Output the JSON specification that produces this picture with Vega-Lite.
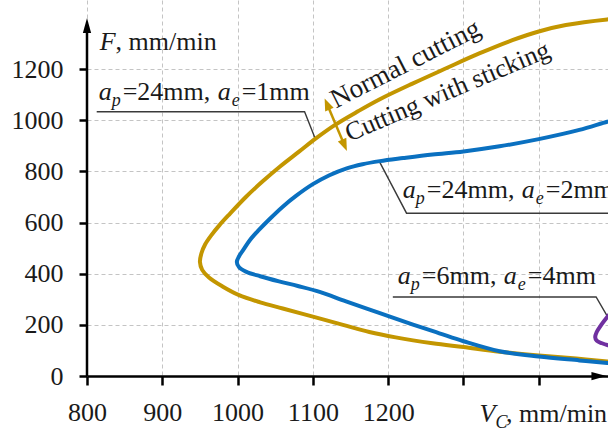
{
  "$schema": "https://vega.github.io/schema/vega-lite/v6.json",
  "width": 521,
  "height": 376,
  "autosize": "none",
  "padding": {"left": 87, "top": 0, "right": 0, "bottom": 54},
  "background": "white",
  "config": {
    "view": {"stroke": null},
    "axis": {
      "labelFont": "Liberation Serif",
      "labelFontSize": 26,
      "labelColor": "#1a1a1a",
      "labelFlush": false,
      "labelOverlap": false,
      "gridColor": "#c4c4c4",
      "gridDash": [4, 3],
      "gridWidth": 1,
      "tickColor": "#000000",
      "domainColor": "#000000"
    }
  },
  "datasets": {
    "curves": [
      {"s": "g", "i": 1, "V": 1500, "F": 1396}, {"s": "g", "i": 2, "V": 1491, "F": 1394}, {"s": "g", "i": 3, "V": 1436, "F": 1372},
      {"s": "g", "i": 4, "V": 1400, "F": 1347}, {"s": "g", "i": 5, "V": 1365, "F": 1313}, {"s": "g", "i": 6, "V": 1321, "F": 1261},
      {"s": "g", "i": 7, "V": 1277, "F": 1203}, {"s": "g", "i": 8, "V": 1233, "F": 1144}, {"s": "g", "i": 9, "V": 1189, "F": 1082},
      {"s": "g", "i": 10, "V": 1160, "F": 1035}, {"s": "g", "i": 11, "V": 1129, "F": 981}, {"s": "g", "i": 12, "V": 1104, "F": 929},
      {"s": "g", "i": 13, "V": 1082, "F": 878}, {"s": "g", "i": 14, "V": 1056, "F": 818}, {"s": "g", "i": 15, "V": 1033, "F": 760},
      {"s": "g", "i": 16, "V": 1011, "F": 700}, {"s": "g", "i": 17, "V": 990, "F": 635}, {"s": "g", "i": 18, "V": 976, "F": 590},
      {"s": "g", "i": 19, "V": 965, "F": 550}, {"s": "g", "i": 20, "V": 957, "F": 515}, {"s": "g", "i": 21, "V": 952, "F": 480},
      {"s": "g", "i": 22, "V": 950, "F": 446}, {"s": "g", "i": 23, "V": 953, "F": 415}, {"s": "g", "i": 24, "V": 962, "F": 385},
      {"s": "g", "i": 25, "V": 980, "F": 350}, {"s": "g", "i": 26, "V": 1002, "F": 316}, {"s": "g", "i": 27, "V": 1030, "F": 288},
      {"s": "g", "i": 28, "V": 1060, "F": 264}, {"s": "g", "i": 29, "V": 1100, "F": 232}, {"s": "g", "i": 30, "V": 1140, "F": 200},
      {"s": "g", "i": 31, "V": 1175, "F": 172}, {"s": "g", "i": 32, "V": 1210, "F": 151}, {"s": "g", "i": 33, "V": 1259, "F": 128},
      {"s": "g", "i": 34, "V": 1300, "F": 113}, {"s": "g", "i": 35, "V": 1348, "F": 95}, {"s": "g", "i": 36, "V": 1400, "F": 80},
      {"s": "g", "i": 37, "V": 1450, "F": 68}, {"s": "g", "i": 38, "V": 1491, "F": 57}, {"s": "g", "i": 39, "V": 1500, "F": 55},
      {"s": "b", "i": 1, "V": 1500, "F": 1000}, {"s": "b", "i": 2, "V": 1491, "F": 994}, {"s": "b", "i": 3, "V": 1454, "F": 962},
      {"s": "b", "i": 4, "V": 1400, "F": 926}, {"s": "b", "i": 5, "V": 1348, "F": 898}, {"s": "b", "i": 6, "V": 1300, "F": 878},
      {"s": "b", "i": 7, "V": 1259, "F": 866}, {"s": "b", "i": 8, "V": 1220, "F": 852}, {"s": "b", "i": 9, "V": 1189, "F": 840},
      {"s": "b", "i": 10, "V": 1166, "F": 828}, {"s": "b", "i": 11, "V": 1145, "F": 812}, {"s": "b", "i": 12, "V": 1122, "F": 785},
      {"s": "b", "i": 13, "V": 1100, "F": 750}, {"s": "b", "i": 14, "V": 1078, "F": 705}, {"s": "b", "i": 15, "V": 1060, "F": 662},
      {"s": "b", "i": 16, "V": 1042, "F": 612}, {"s": "b", "i": 17, "V": 1028, "F": 570}, {"s": "b", "i": 18, "V": 1016, "F": 530},
      {"s": "b", "i": 19, "V": 1008, "F": 495}, {"s": "b", "i": 20, "V": 1002, "F": 468}, {"s": "b", "i": 21, "V": 999, "F": 446},
      {"s": "b", "i": 22, "V": 1002, "F": 425}, {"s": "b", "i": 23, "V": 1011, "F": 408}, {"s": "b", "i": 24, "V": 1030, "F": 390},
      {"s": "b", "i": 25, "V": 1055, "F": 370}, {"s": "b", "i": 26, "V": 1080, "F": 352}, {"s": "b", "i": 27, "V": 1109, "F": 329},
      {"s": "b", "i": 28, "V": 1144, "F": 292}, {"s": "b", "i": 29, "V": 1189, "F": 246}, {"s": "b", "i": 30, "V": 1233, "F": 201},
      {"s": "b", "i": 31, "V": 1268, "F": 167}, {"s": "b", "i": 32, "V": 1300, "F": 136}, {"s": "b", "i": 33, "V": 1348, "F": 97},
      {"s": "b", "i": 34, "V": 1400, "F": 76}, {"s": "b", "i": 35, "V": 1454, "F": 61}, {"s": "b", "i": 36, "V": 1491, "F": 51},
      {"s": "b", "i": 37, "V": 1500, "F": 49},
      {"s": "p", "i": 1, "V": 1500, "F": 262}, {"s": "p", "i": 2, "V": 1491, "F": 231}, {"s": "p", "i": 3, "V": 1483, "F": 200},
      {"s": "p", "i": 4, "V": 1477, "F": 172}, {"s": "p", "i": 5, "V": 1475, "F": 152}, {"s": "p", "i": 6, "V": 1477, "F": 138},
      {"s": "p", "i": 7, "V": 1484, "F": 128}, {"s": "p", "i": 8, "V": 1491, "F": 121}, {"s": "p", "i": 9, "V": 1500, "F": 116}
    ],
    "leaders": [
      {"L": 1, "i": 1, "V": 812.9, "F": 1033}, {"L": 1, "i": 2, "V": 1089, "F": 1033}, {"L": 1, "i": 3, "V": 1103.6, "F": 925},
      {"L": 2, "i": 1, "V": 1188.6, "F": 837}, {"L": 2, "i": 2, "V": 1224.4, "F": 636.5}, {"L": 2, "i": 3, "V": 1500, "F": 636.5},
      {"L": 3, "i": 1, "V": 1206.2, "F": 309}, {"L": 3, "i": 2, "V": 1476.2, "F": 309}, {"L": 3, "i": 3, "V": 1491.2, "F": 233.5}
    ],
    "italicText": [
      {"V": 816.9, "F": 1274, "t": "F"}, {"V": 1321.3, "F": -181, "t": "V"},
      {"V": 815.5, "F": 1078.5, "t": "a"}, {"V": 973.5, "F": 1078.5, "t": "a"},
      {"V": 1219.5, "F": 695.2, "t": "a"}, {"V": 1377.5, "F": 695.2, "t": "a"},
      {"V": 1212.9, "F": 361.5, "t": "a"}, {"V": 1353.6, "F": 361.5, "t": "a"}
    ],
    "subText": [
      {"V": 832.8, "F": 1055, "t": "p"}, {"V": 992.1, "F": 1055, "t": "e"},
      {"V": 1236.7, "F": 671.7, "t": "p"}, {"V": 1396.1, "F": 671.7, "t": "e"},
      {"V": 1230.1, "F": 337.2, "t": "p"}, {"V": 1372.2, "F": 337.2, "t": "e"},
      {"V": 1342.5, "F": -204.6, "t": "C"}
    ],
    "romanText": [
      {"V": 838, "F": 1274, "t": ", mm/min"}, {"V": 1356.5, "F": -181, "t": ", mm/min"},
      {"V": 847.4, "F": 1078.5, "t": "=24mm,"}, {"V": 1005.4, "F": 1078.5, "t": "=1mm"},
      {"V": 1251.4, "F": 695.2, "t": "=24mm,"}, {"V": 1409.3, "F": 695.2, "t": "=2mm"},
      {"V": 1244.7, "F": 361.5, "t": "=6mm,"}, {"V": 1385.5, "F": 361.5, "t": "=4mm"}
    ],
    "regions": [
      {"V": 1130.6, "F": 1046, "t": "Normal cutting"},
      {"V": 1148.7, "F": 915.4, "t": "Cutting with sticking"}
    ],
    "shaft": [{"V": 1118.8, "F": 1063.3, "V2": 1142, "F2": 902}],
    "heads": [
      {"V": 1118.8, "F": 1063.3, "d": "up"},
      {"V": 1142, "F": 902, "d": "down"}
    ],
    "axisLine": [{"V": 800, "F": 0, "F2": 1372}],
    "axisHeads": [
      {"V": 800, "F": 1370, "d": "up"},
      {"V": 1480, "F": 0, "d": "right"}
    ]
  },
  "encoding": {
    "x": {
      "field": "V", "type": "quantitative",
      "scale": {"domain": [800, 1492], "nice": false, "zero": false},
      "axis": {
        "values": [800, 900, 1000, 1100, 1200, 1300, 1400],
        "labelExpr": "datum.value <= 1200 ? datum.label : ''",
        "format": "d", "title": null, "grid": true,
        "tickSize": 9, "tickWidth": 2.5, "domainWidth": 2.5, "labelPadding": 14
      }
    },
    "y": {
      "field": "F", "type": "quantitative",
      "scale": {"domain": [0, 1470], "nice": false},
      "axis": {
        "values": [0, 200, 400, 600, 800, 1000, 1200],
        "format": "d", "title": null, "grid": true, "domain": false,
        "tickSize": 8, "tickWidth": 2.5, "labelPadding": 16
      }
    }
  },
  "layer": [
    {
      "data": {"name": "leaders"},
      "mark": {"type": "line", "stroke": "#3a3a3a", "strokeWidth": 1.4, "clip": true},
      "encoding": {"detail": {"field": "L"}, "order": {"field": "i"}}
    },
    {
      "data": {"name": "curves"},
      "mark": {"type": "line", "strokeWidth": 4, "interpolate": "catmull-rom", "clip": true},
      "encoding": {
        "color": {"field": "s", "type": "nominal", "scale": {"domain": ["g", "b", "p"], "range": ["#C39600", "#0A70C0", "#7030A0"]}, "legend": null},
        "order": {"field": "i"}
      }
    },
    {
      "data": {"name": "axisLine"},
      "mark": {"type": "rule", "color": "#000000", "strokeWidth": 2.5},
      "encoding": {"y2": {"field": "F2"}}
    },
    {
      "data": {"name": "axisHeads"},
      "transform": [{"filter": "datum.d == 'up'"}],
      "mark": {"type": "point", "shape": "M0,-1L-0.55,1L0.55,1Z", "filled": true, "color": "#000000", "opacity": 1, "size": 225}
    },
    {
      "data": {"name": "axisHeads"},
      "transform": [{"filter": "datum.d == 'right'"}],
      "mark": {"type": "point", "shape": "M1,0L-1,-0.55L-1,0.55Z", "filled": true, "color": "#000000", "opacity": 1, "size": 225}
    },
    {
      "data": {"name": "shaft"},
      "mark": {"type": "rule", "color": "#C39600", "strokeWidth": 2.5},
      "encoding": {"x2": {"field": "V2"}, "y2": {"field": "F2"}}
    },
    {
      "data": {"name": "heads"},
      "transform": [{"filter": "datum.d == 'up'"}],
      "mark": {"type": "point", "shape": "M0,-1L-0.75,1L0.75,1Z", "angle": -23, "filled": true, "color": "#C39600", "opacity": 1, "size": 150}
    },
    {
      "data": {"name": "heads"},
      "transform": [{"filter": "datum.d == 'down'"}],
      "mark": {"type": "point", "shape": "M0,1L-0.75,-1L0.75,-1Z", "angle": -23, "filled": true, "color": "#C39600", "opacity": 1, "size": 150}
    },
    {
      "data": {"name": "italicText"},
      "mark": {"type": "text", "font": "Liberation Serif", "fontSize": 26, "fontStyle": "italic", "align": "left", "baseline": "alphabetic", "color": "#1a1a1a"},
      "encoding": {"text": {"field": "t"}}
    },
    {
      "data": {"name": "subText"},
      "mark": {"type": "text", "font": "Liberation Serif", "fontSize": 18, "fontStyle": "italic", "align": "left", "baseline": "alphabetic", "color": "#1a1a1a"},
      "encoding": {"text": {"field": "t"}}
    },
    {
      "data": {"name": "romanText"},
      "mark": {"type": "text", "font": "Liberation Serif", "fontSize": 26, "align": "left", "baseline": "alphabetic", "color": "#1a1a1a"},
      "encoding": {"text": {"field": "t"}}
    },
    {
      "data": {"name": "regions"},
      "transform": [{"filter": "datum.t == 'Normal cutting'"}],
      "mark": {"type": "text", "font": "Liberation Serif", "fontSize": 27, "align": "left", "baseline": "alphabetic", "angle": -27, "color": "#1a1a1a"},
      "encoding": {"text": {"field": "t"}}
    },
    {
      "data": {"name": "regions"},
      "transform": [{"filter": "datum.t == 'Cutting with sticking'"}],
      "mark": {"type": "text", "font": "Liberation Serif", "fontSize": 26, "align": "left", "baseline": "alphabetic", "angle": -23, "color": "#1a1a1a"},
      "encoding": {"text": {"field": "t"}}
    }
  ]
}
